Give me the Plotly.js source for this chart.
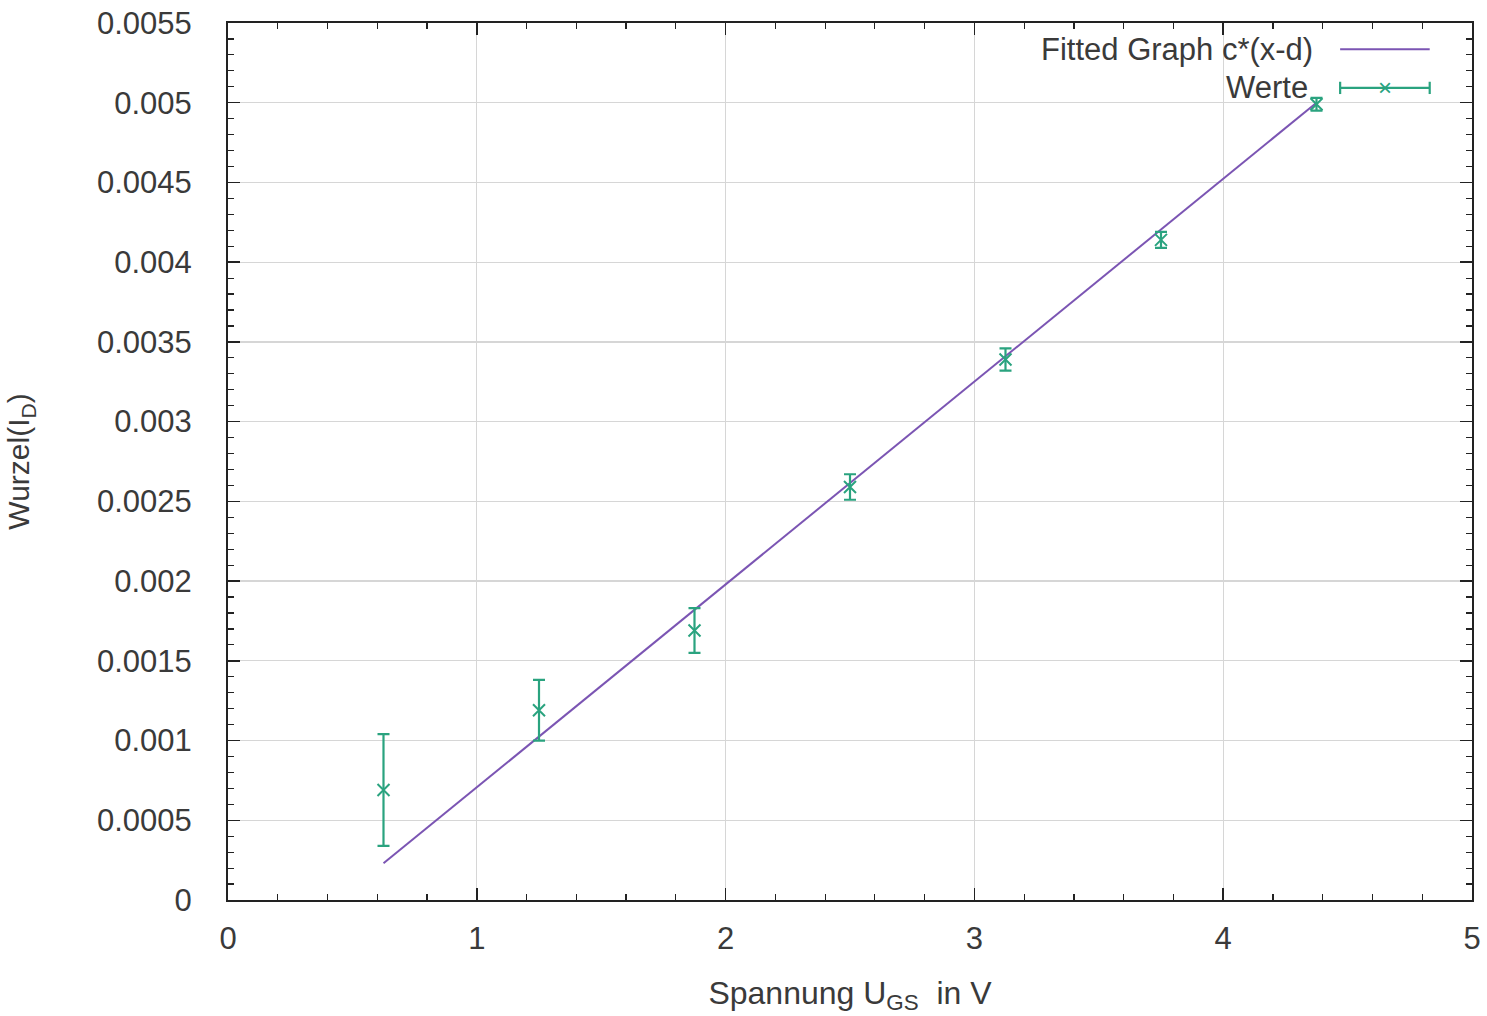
<!DOCTYPE html>
<html>
<head>
<meta charset="utf-8">
<script src="https://cdn.plot.ly/plotly-3.0.1.min.js"></script>
<style>
html,body{margin:0;padding:0;background:#ffffff;}
#chart{width:1487px;height:1016px;}
</style>
</head>
<body>
<div id="chart"></div>
<script>
// Data
const uGS = [0.625, 1.25, 1.875, 2.5, 3.125, 3.75, 4.375];
const wurzelID = [0.00069, 0.00119, 0.00169, 0.00259, 0.00339, 0.00414, 0.00499];
const wurzelErr = [0.00035, 0.00019, 0.00014, 0.00008, 0.00007, 0.00005, 0.00004];
const fitX = [0.625, 4.375];
const fitY = [0.00023, 0.00500];
const xTickVals = [0, 1, 2, 3, 4, 5];
const xTickText = ["0", "1", "2", "3", "4", "5"];
const yTickVals = [0, 0.0005, 0.001, 0.0015, 0.002, 0.0025, 0.003, 0.0035, 0.004, 0.0045, 0.005, 0.0055];
const yTickText = ["0", "0.0005", "0.001", "0.0015", "0.002", "0.0025", "0.003", "0.0035", "0.004", "0.0045", "0.005", "0.0055"];
const legendLabels = ["Fitted Graph c*(x-d)", "Werte"];

const lineColor = "#7b55b3";
const pointColor = "#2aa37f";
const textColor = "#3a3a3a";
const fontFamily = "Liberation Sans, Arial, sans-serif";

const traces = [
  {
    x: fitX, y: fitY, type: "scatter", mode: "lines",
    line: {color: lineColor, width: 2},
    name: legendLabels[0], showlegend: false, hoverinfo: "skip"
  },
  {
    x: uGS, y: wurzelID, type: "scatter", mode: "markers",
    marker: {symbol: "x-thin", size: 12, line: {color: pointColor, width: 2}, color: pointColor},
    error_y: {type: "data", array: wurzelErr, visible: true, color: pointColor, thickness: 2.2, width: 6},
    name: legendLabels[1], showlegend: false
  }
];

// custom legend (text right-aligned, sample on the right like gnuplot)
const legX0 = 0.894, legX1 = 0.966;
const legY = [0.970, 0.926];
const shapes = [
  {type: "line", xref: "paper", yref: "paper", x0: legX0, x1: legX1, y0: legY[0], y1: legY[0], line: {color: lineColor, width: 2}},
  {type: "line", xref: "paper", yref: "paper", x0: legX0, x1: legX1, y0: legY[1], y1: legY[1], line: {color: pointColor, width: 2.2}},
  {type: "line", xref: "paper", yref: "paper", x0: legX0, x1: legX0, y0: legY[1]-0.007, y1: legY[1]+0.007, line: {color: pointColor, width: 2.2}},
  {type: "line", xref: "paper", yref: "paper", x0: legX1, x1: legX1, y0: legY[1]-0.007, y1: legY[1]+0.007, line: {color: pointColor, width: 2.2}}
];

const annotations = [
  {xref: "paper", yref: "paper", x: 0.874, y: legY[0], xanchor: "right", yanchor: "middle",
   text: legendLabels[0], showarrow: false, font: {family: fontFamily, size: 31, color: textColor}},
  {xref: "paper", yref: "paper", x: 0.870, y: legY[1], xanchor: "right", yanchor: "middle",
   text: legendLabels[1], showarrow: false, font: {family: fontFamily, size: 31, color: textColor}},
  {xref: "paper", yref: "paper", x: (legX0 + legX1) / 2, y: legY[1], xanchor: "center", yanchor: "middle",
   text: "×", showarrow: false, font: {family: fontFamily, size: 24, color: pointColor}}
];

const axisCommon = {
  showline: true, linecolor: "#222", linewidth: 2, mirror: "allticks",
  ticks: "inside", ticklen: 12, tickwidth: 1.5, tickcolor: "#222",
  showgrid: true, gridcolor: "#d6d6d6", gridwidth: 1.2,
  zeroline: false,
  tickfont: {family: fontFamily, size: 31, color: textColor}
};

const layout = {
  width: 1487, height: 1016,
  margin: {l: 228, r: 15, t: 23, b: 116},
  paper_bgcolor: "#ffffff", plot_bgcolor: "#ffffff",
  showlegend: false,
  xaxis: Object.assign({}, axisCommon, {
    range: [0, 5], tickmode: "array", tickvals: xTickVals, ticktext: xTickText,
    ticklabelstandoff: 10,
    minor: {ticks: "inside", dtick: 0.2, ticklen: 6, tickcolor: "#222", tickwidth: 1.2, showgrid: false},
    title: {text: "Spannung U<sub>GS</sub>  in V", font: {family: fontFamily, size: 32, color: textColor}, standoff: 26}
  }),
  yaxis: Object.assign({}, axisCommon, {
    range: [0, 0.0055], tickmode: "array", tickvals: yTickVals, ticktext: yTickText,
    ticklabelstandoff: 28,
    minor: {ticks: "inside", dtick: 0.0001, ticklen: 6, tickcolor: "#222", tickwidth: 1.2, showgrid: false},
    title: {text: "Wurzel(I<sub>D</sub>)", font: {family: fontFamily, size: 30, color: textColor}, standoff: 58}
  }),
  shapes: shapes,
  annotations: annotations
};

Plotly.newPlot("chart", traces, layout, {displayModeBar: false, staticPlot: true});
</script>
</body>
</html>
